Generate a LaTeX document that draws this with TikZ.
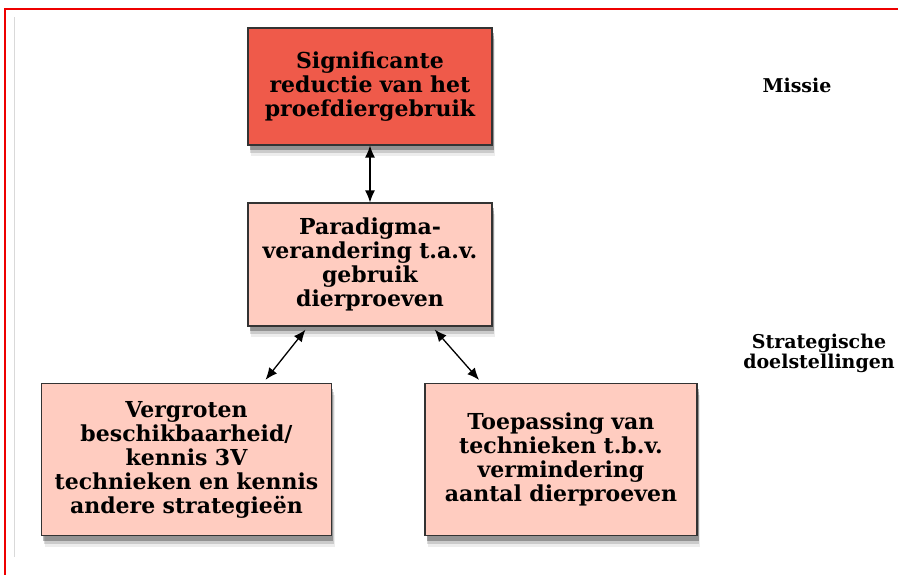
\documentclass[tikz,border=0pt]{standalone}
\usepackage{fontspec}
\setmainfont{DejaVu Serif}
\usetikzlibrary{arrows.meta,shadows}
\definecolor{missred}{HTML}{EF5A4A}
\definecolor{goalpink}{HTML}{FFCCC0}
\definecolor{framered}{HTML}{EE0000}
\tikzset{
  boxbase/.style={draw=black!80, line width=1.1pt, align=center, inner sep=0pt,
    font=\bfseries\fontsize{22}{24}\selectfont,
    drop shadow={shadow xshift=3pt, shadow yshift=-11pt, opacity=0.07, fill=black},
    drop shadow={shadow xshift=2pt, shadow yshift=-8pt, opacity=0.14, fill=black},
    drop shadow={shadow xshift=1.5pt, shadow yshift=-5pt, opacity=0.28, fill=black}},
  missbox/.style={boxbase, fill=missred},
  goalbox/.style={boxbase, fill=goalpink},
  biarrow/.style={line width=1.3pt, {Latex[length=12pt,width=10pt]}-{Latex[length=12pt,width=10pt]}},
  sidelabel/.style={align=center, font=\bfseries\fontsize{19}{20}\selectfont}
}
\begin{document}
\begin{tikzpicture}[x=1pt,y=-1pt]
\useasboundingbox (0,0) rectangle (898,574);
\fill[white] (0,0) rectangle (898,574);
% frame
\draw[framered, line width=2pt] (5,580) -- (5,9) -- (905,9);
\draw[black!15, line width=0.6pt] (14,17) -- (14,557);
% boxes
\node[missbox, minimum width=244pt, minimum height=117pt, text width=238pt] (mission) at (370,86.5)
  {Significante\\reductie van het\\proefdiergebruik};
\node[goalbox, minimum width=244pt, minimum height=123pt, text width=238pt] (paradigm) at (370,264.5)
  {Paradigma-\\verandering t.a.v.\\gebruik\\dierproeven};
\node[goalbox, minimum width=290pt, minimum height=152pt, text width=284pt] (avail) at (186.5,459.5)
  {Vergroten\\beschikbaarheid/\\kennis 3V\\technieken en kennis\\andere strategieën};
\node[goalbox, minimum width=272pt, minimum height=152pt, text width=266pt] (apply) at (561,459.5)
  {Toepassing van\\technieken t.b.v.\\vermindering\\aantal dierproeven};
% labels
\node[sidelabel] (lmission) at (797,85) {Missie};
\node[sidelabel] (lgoals) at (819,353) {Strategische\\doelstellingen};
% connectors
\draw[biarrow] (mission.south) -- (paradigm.north);
\draw[biarrow, shorten <=4pt, shorten >=4pt] (paradigm.225.7) -- (avail.45);
\draw[biarrow, shorten <=4pt, shorten >=4pt] (paradigm.315.7) -- (apply.136.6);
\end{tikzpicture}
\end{document}
